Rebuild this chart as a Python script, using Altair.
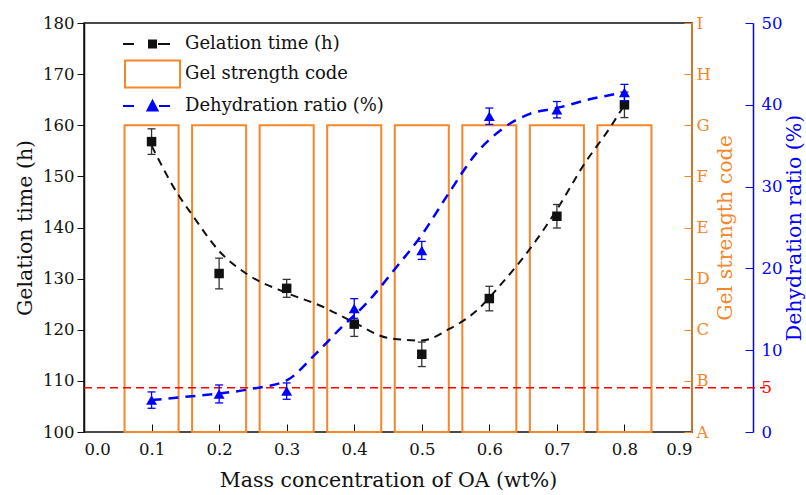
import altair as alt
import pandas as pd

# ---------------- data ----------------
conc = [0.1, 0.2, 0.3, 0.4, 0.5, 0.6, 0.7, 0.8]
gel_time = [156.8, 131.0, 128.1, 121.1, 115.2, 126.1, 142.2, 164.0]
gel_time_err = [2.5, 3.0, 1.75, 2.4, 2.4, 2.4, 2.3, 2.5]
dehydration = [3.9, 4.65, 5.0, 15.1, 22.2, 38.6, 39.4, 41.5]
dehydration_err = [1.0, 1.1, 1.0, 1.2, 1.1, 1.0, 1.0, 1.0]
gel_code = ["G", "G", "G", "G", "G", "G", "G", "G"]
code_letters = ["A", "B", "C", "D", "E", "F", "G", "H", "I"]

fit_gel_x = [0.10, 0.14, 0.16, 0.20, 0.24, 0.30, 0.35, 0.40, 0.45, 0.50,
             0.54, 0.58, 0.62, 0.66, 0.70, 0.74, 0.78, 0.80]
fit_gel_y = [156.0, 146.3, 142.5, 135.4, 131.0, 127.2, 124.7, 121.4, 118.4, 117.9,
             120.1, 123.6, 129.3, 135.8, 143.5, 152.3, 159.8, 164.0]

fit_dh_x = [0.10, 0.15, 0.20, 0.25, 0.30, 0.34, 0.38, 0.42, 0.46, 0.50,
            0.54, 0.58, 0.62, 0.66, 0.70, 0.75, 0.80]
fit_dh_y = [3.9, 4.3, 4.7, 5.3, 6.3, 9.3, 12.7, 15.9, 19.9, 24.1,
            29.2, 34.0, 37.1, 38.9, 39.6, 40.7, 41.5]

x_ticks = [0.0, 0.1, 0.2, 0.3, 0.4, 0.5, 0.6, 0.7, 0.8, 0.9]
gel_ticks = [100, 110, 120, 130, 140, 150, 160, 170, 180]
dh_ticks = [0, 5.4, 10, 20, 30, 40, 50]
threshold = 5.4

legend_names = ["Gelation time (h)", "Gel strength code", "Dehydration ratio (%)"]

# ---------------- styling ----------------
W, H = 608, 409
FONT = "DejaVu Serif"
ORANGE = "#F5862A"
BLUE = "#0000FF"
BLACK = "#111111"
BAR_HALF = 0.04

pts = pd.DataFrame({
    "x": conc,
    "gel": gel_time,
    "gel_lo": [g - e for g, e in zip(gel_time, gel_time_err)],
    "gel_hi": [g + e for g, e in zip(gel_time, gel_time_err)],
    "dh": dehydration,
    "dh_lo": [d - e for d, e in zip(dehydration, dehydration_err)],
    "dh_hi": [d + e for d, e in zip(dehydration, dehydration_err)],
    "code": [code_letters.index(c) for c in gel_code],
})
pts["bar_lo"] = pts["x"] - BAR_HALF
pts["bar_hi"] = pts["x"] + BAR_HALF

fit_gel = pd.DataFrame({"x": fit_gel_x, "gel": fit_gel_y})
fit_dh = pd.DataFrame({"x": fit_dh_x, "dh": fit_dh_y})
one = pd.DataFrame({"k": [0]})

# ---------------- shared x ----------------
x_axis = alt.Axis(values=x_ticks, format=".1f", offset=-8, tickSize=8, domain=False,
                  labelPadding=9, title="Mass concentration of OA (wt%)", titlePadding=13,
                  grid=False, tickColor=BLACK, labelColor=BLACK, titleColor=BLACK)
x_scale = alt.Scale(domain=[0, 0.9], nice=False, zero=False)


def X(field):
    return alt.X(field, type="quantitative", scale=x_scale, axis=x_axis)


# ---------------- left: gelation time ----------------
gel_scale = alt.Scale(domain=[100, 180], nice=False, zero=False)
gel_axis = alt.Axis(orient="left", values=gel_ticks, tickSize=7, labelPadding=3,
                    title="Gelation time (h)", titlePadding=7, grid=False,
                    domainColor=BLACK, domainWidth=1.5, tickColor=BLACK,
                    labelColor=BLACK, titleColor=BLACK)


def YG(field):
    return alt.Y(field, type="quantitative", scale=gel_scale, axis=gel_axis)


gel_line = alt.Chart(fit_gel).mark_line(
    color=BLACK, strokeWidth=2, strokeDash=[8, 6], interpolate="monotone"
).encode(x=X("x"), y=YG("gel"))
gel_err = alt.Chart(pts).mark_rule(color="#333333", strokeWidth=1.3).encode(
    x=X("x"), y=YG("gel_lo"), y2="gel_hi")
gel_cap_lo = alt.Chart(pts).mark_tick(color="#333333", orient="horizontal", size=8,
                                      thickness=1.3, opacity=1).encode(x=X("x"), y=YG("gel_lo"))
gel_cap_hi = alt.Chart(pts).mark_tick(color="#333333", orient="horizontal", size=8,
                                      thickness=1.3, opacity=1).encode(x=X("x"), y=YG("gel_hi"))
gel_pts = alt.Chart(pts).mark_point(shape="square", filled=True, size=90, color=BLACK,
                                    opacity=1).encode(x=X("x"), y=YG("gel"))
gel_group = alt.layer(gel_line, gel_err, gel_cap_lo, gel_cap_hi, gel_pts)

# ---------------- orange: gel strength code ----------------
code_scale = alt.Scale(domain=[0, 8], nice=False, zero=False)
letters_js = "[" + ",".join("'%s'" % c for c in code_letters) + "]"
code_axis = alt.Axis(orient="right", values=list(range(len(code_letters))),
                     labelExpr=letters_js + "[datum.value]", offset=-8, tickSize=8,
                     domain=False, tickColor=ORANGE, labelColor=ORANGE, labelPadding=4,
                     title="Gel strength code", titleColor=ORANGE, titleAngle=270,
                     titleBaseline="top", titlePadding=5, grid=False)

bars = alt.Chart(pts).mark_rect(fill="transparent", stroke=ORANGE, strokeWidth=2).encode(
    x=X("bar_lo"), x2="bar_hi",
    y=alt.Y("code", type="quantitative", scale=code_scale, axis=code_axis),
    y2=alt.datum(0))
orange_edge = alt.Chart(one).mark_rule(color=ORANGE, strokeWidth=1.5).encode(
    x=alt.XDatum(0.9, scale=x_scale, axis=x_axis),
    y=alt.YDatum(0, scale=code_scale, axis=code_axis),
    y2=alt.datum(8))
code_group = alt.layer(bars, orange_edge)

# ---------------- blue axis line + red threshold ----------------
dh_scale = alt.Scale(domain=[0, 50], nice=False, zero=False)
red_rule = alt.Chart(one).mark_rule(color="#FF0000", strokeWidth=1.5, strokeDash=[8, 5]).encode(
    y=alt.YDatum(threshold, scale=dh_scale,
                 axis=alt.Axis(orient="right", offset=61, domain=True, domainColor=BLUE,
                               domainWidth=1.5, ticks=False, labels=False, title=None,
                               grid=False)),
    x=alt.value(0), x2=alt.value(W + 73))

# ---------------- blue: dehydration ratio ----------------
dh_axis = alt.Axis(orient="right", values=dh_ticks,
                   labelExpr="datum.value == %s ? '5' : format(datum.value, 'd')" % threshold,
                   offset=53, tickSize=8, domain=False,
                   tickColor={"condition": {"test": "datum.value == %s" % threshold,
                                            "value": "transparent"}, "value": BLUE},
                   labelColor={"condition": {"test": "datum.value == %s" % threshold,
                                             "value": "#FF0000"}, "value": BLUE},
                   labelPadding=8, title="Dehydration ratio (%)", titleColor=BLUE,
                   titleAngle=270, titleBaseline="top", titlePadding=3, grid=False)


def YB(field):
    return alt.Y(field, type="quantitative", scale=dh_scale, axis=dh_axis)


dh_line = alt.Chart(fit_dh).mark_line(
    color=BLUE, strokeWidth=2.5, strokeDash=[10, 7], interpolate="monotone"
).encode(x=X("x"), y=YB("dh"))
dh_err = alt.Chart(pts).mark_rule(color=BLUE, strokeWidth=1.3).encode(
    x=X("x"), y=YB("dh_lo"), y2="dh_hi")
dh_cap_lo = alt.Chart(pts).mark_tick(color=BLUE, orient="horizontal", size=8,
                                     thickness=1.3, opacity=1).encode(x=X("x"), y=YB("dh_lo"))
dh_cap_hi = alt.Chart(pts).mark_tick(color=BLUE, orient="horizontal", size=8,
                                     thickness=1.3, opacity=1).encode(x=X("x"), y=YB("dh_hi"))
dh_pts = alt.Chart(pts).mark_point(shape="triangle-up", filled=True, size=120, color=BLUE,
                                   opacity=1).encode(x=X("x"), y=YB("dh"))
dh_group = alt.layer(dh_line, dh_err, dh_cap_lo, dh_cap_hi, dh_pts)

# ---------------- legend (empty layer carrying the legend scales) ----------------
legend_paths = [
    "M-4.7,0L-3.6,0M-2.1,-0.35L-1.4,-0.35L-1.4,0.35L-2.1,0.35ZM-1.2,0L0,0",
    "M-4.5,-1.35L1,-1.35L1,1.35L-4.5,1.35Z",
    "M-4.7,0L-3.6,0M-2.25,0.45L-1.75,-0.5L-1.25,0.45ZM-1.1,0L0,0",
]
leg = alt.Legend(orient="none", legendX=75, legendY=10, title=None, symbolSize=400,
                 symbolStrokeWidth=2, labelFont=FONT, labelFontSize=18, labelColor=BLACK,
                 labelOffset=4, rowPadding=3, padding=0, labelLimit=400, symbolOpacity=1)
legend_layer = alt.Chart(alt.Data(values=[])).mark_point(filled=True, size=400, opacity=1).encode(
    shape=alt.Shape("s:N", scale=alt.Scale(domain=legend_names, range=legend_paths), legend=leg),
    fill=alt.Fill("s:N", scale=alt.Scale(domain=legend_names,
                                         range=[BLACK, "transparent", BLUE]), legend=leg),
    stroke=alt.Stroke("s:N", scale=alt.Scale(domain=legend_names,
                                             range=[BLACK, ORANGE, BLUE]), legend=leg),
)

chart = alt.layer(code_group, red_rule, gel_group, dh_group, legend_layer).resolve_scale(
    y="independent"
).properties(
    width=W, height=H,
    autosize=alt.AutoSizeParams(type="none"),
    padding={"left": 84, "top": 23, "right": 806 - 84 - W, "bottom": 495 - 23 - H},
    background="white",
).configure_view(
    stroke=BLACK, strokeWidth=1.5
).configure_axis(
    labelFont=FONT, titleFont=FONT, labelFontSize=16.5, titleFontSize=20.5,
    titleFontWeight="normal"
)

chart.save("out.html", embed_options={"renderer": "svg", "actions": False})
